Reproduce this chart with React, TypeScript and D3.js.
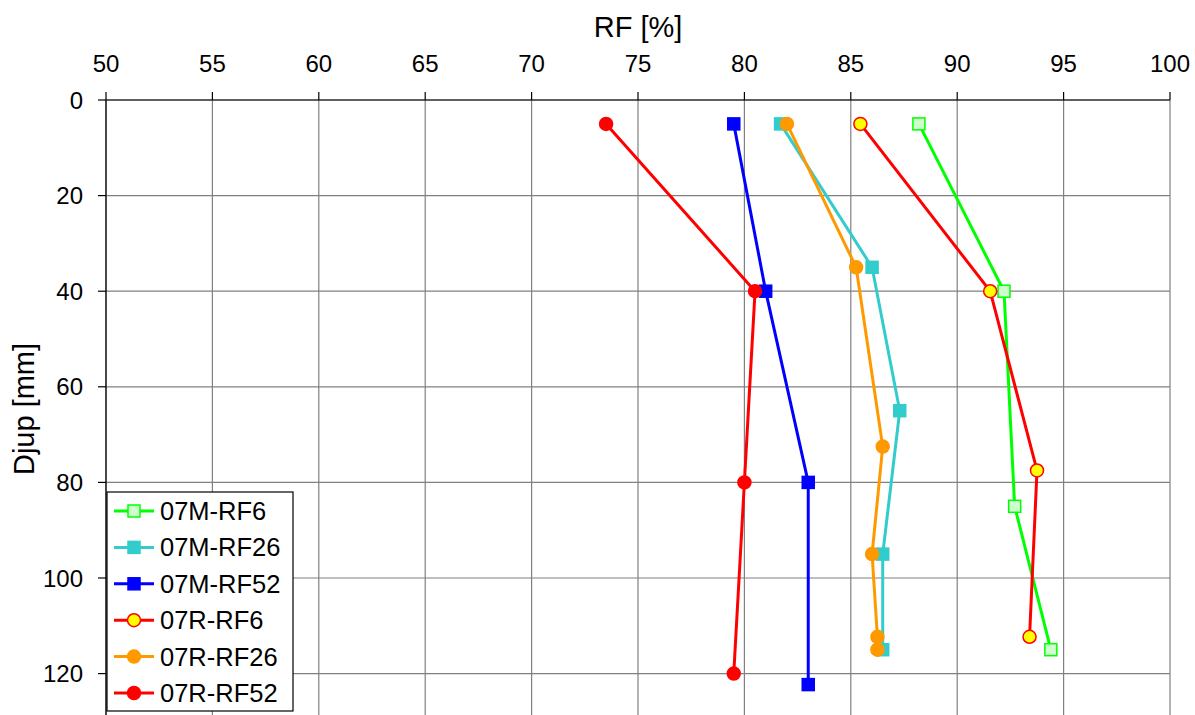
import React from "react";
import * as d3 from "d3";

const xTicks = [50, 55, 60, 65, 70, 75, 80, 85, 90, 95, 100];
const yTicks = [0, 20, 40, 60, 80, 100, 120];

const seriesNames = ["07M-RF6", "07M-RF26", "07M-RF52", "07R-RF6", "07R-RF26", "07R-RF52"];

const rf07M6 = [
  { rf: 88.2, d: 5 },
  { rf: 92.2, d: 40 },
  { rf: 92.7, d: 85 },
  { rf: 94.4, d: 115 },
];
const rf07M26 = [
  { rf: 81.7, d: 5 },
  { rf: 86.0, d: 35 },
  { rf: 87.3, d: 65 },
  { rf: 86.5, d: 95 },
  { rf: 86.5, d: 115 },
];
const rf07M52 = [
  { rf: 79.5, d: 5 },
  { rf: 81.0, d: 40 },
  { rf: 83.0, d: 80 },
  { rf: 83.0, d: 122.3 },
];
const rf07R6 = [
  { rf: 85.45, d: 5 },
  { rf: 91.55, d: 40 },
  { rf: 93.75, d: 77.5 },
  { rf: 93.4, d: 112.3 },
];
const rf07R26 = [
  { rf: 82.0, d: 5 },
  { rf: 85.25, d: 35 },
  { rf: 86.5, d: 72.5 },
  { rf: 86.0, d: 95 },
  { rf: 86.25, d: 112.3 },
  { rf: 86.25, d: 115 },
];
const rf07R52 = [
  { rf: 73.5, d: 5 },
  { rf: 80.5, d: 40 },
  { rf: 80.0, d: 80 },
  { rf: 79.5, d: 120 },
];

const seriesData = [rf07M6, rf07M26, rf07M52, rf07R6, rf07R26, rf07R52];

const styles = [
  { stroke: "#00FF00", fill: "#CCFFCC", mStroke: "#00FF00", shape: "square" },
  { stroke: "#33CCCC", fill: "#33CCCC", mStroke: "#33CCCC", shape: "square" },
  { stroke: "#0000FF", fill: "#0000FF", mStroke: "#0000FF", shape: "square" },
  { stroke: "#FF0000", fill: "#FFFF00", mStroke: "#FF0000", shape: "circle" },
  { stroke: "#FF9900", fill: "#FF9900", mStroke: "#FF9900", shape: "circle" },
  { stroke: "#FF0000", fill: "#FF0000", mStroke: "#FF0000", shape: "circle" },
];

const W = 1195;
const H = 715;
const left = 106;
const right = 1170;
const top = 100;
const bottom = 100 + 130 * 4.78;

const font = "'Liberation Sans', Arial, sans-serif";

function Marker({ cx, cy, s }: { cx: number; cy: number; s: any }) {
  if (s.shape === "square") {
    const hw = 6;
    return (
      <rect x={cx - hw} y={cy - hw} width={hw * 2} height={hw * 2} fill={s.fill} stroke={s.mStroke} strokeWidth={1.5} />
    );
  }
  return <circle cx={cx} cy={cy} r={6.5} fill={s.fill} stroke={s.mStroke} strokeWidth={1.5} />;
}

export default function App() {
  const x = d3.scaleLinear().domain([50, 100]).range([left, right]);
  const y = d3.scaleLinear().domain([0, 130]).range([top, bottom]);
  const line = d3
    .line<{ rf: number; d: number }>()
    .x((p) => x(p.rf))
    .y((p) => y(p.d));

  const legX = 107;
  const legY = 492;
  const legW = 186;
  const legH = 219;
  const legStep = 36.4;

  return (
    <svg
      width={W}
      height={H}
      style={{ position: "absolute", left: 0, top: 0, background: "#fff" }}
      fontFamily={font}
    >
      <rect x={0} y={0} width={W} height={H} fill="#fff" />
      {/* grid */}
      {xTicks.map((t) => (
        <line key={"gx" + t} x1={x(t)} x2={x(t)} y1={top} y2={bottom} stroke="#808080" strokeWidth={1.2} />
      ))}
      {yTicks.map((t) => (
        <line key={"gy" + t} x1={left} x2={right} y1={y(t)} y2={y(t)} stroke="#808080" strokeWidth={1.2} />
      ))}
      {/* axes */}
      <line x1={left} x2={right} y1={top} y2={top} stroke="#000" strokeWidth={1.2} />
      <line x1={left} x2={left} y1={top} y2={bottom} stroke="#000" strokeWidth={1.2} />
      {xTicks.map((t) => (
        <g key={"tx" + t}>
          <line x1={x(t)} x2={x(t)} y1={top - 8} y2={top} stroke="#000" strokeWidth={1.2} />
          <text x={x(t)} y={72} textAnchor="middle" fontSize={24} fill="#000">
            {t}
          </text>
        </g>
      ))}
      {yTicks.map((t) => (
        <g key={"ty" + t}>
          <line x1={left - 8} x2={left} y1={y(t)} y2={y(t)} stroke="#000" strokeWidth={1.2} />
          <text x={83} y={y(t) + 8.5} textAnchor="end" fontSize={24} fill="#000">
            {t}
          </text>
        </g>
      ))}
      <text x={638} y={37} textAnchor="middle" fontSize={29} fill="#000">
        RF [%]
      </text>
      <text
        transform={`translate(34, 409) rotate(-90)`}
        textAnchor="middle"
        fontSize={29}
        fill="#000"
      >
        Djup [mm]
      </text>
      {/* series */}
      {seriesData.map((data, i) => (
        <g key={"s" + i}>
          <path d={line(data) || ""} fill="none" stroke={styles[i].stroke} strokeWidth={3} />
          {data.map((p, j) => (
            <Marker key={j} cx={x(p.rf)} cy={y(p.d)} s={styles[i]} />
          ))}
        </g>
      ))}
      {/* legend */}
      <rect x={legX} y={legY} width={legW} height={legH} fill="#fff" stroke="#000" strokeWidth={1.2} />
      {seriesNames.map((n, i) => {
        const cy = legY + 19 + i * legStep;
        return (
          <g key={"l" + i}>
            <line x1={legX + 7} x2={legX + 47} y1={cy} y2={cy} stroke={styles[i].stroke} strokeWidth={3} />
            <Marker cx={legX + 27} cy={cy} s={styles[i]} />
            <text x={legX + 53} y={cy + 9} fontSize={25.5} fill="#000">
              {n}
            </text>
          </g>
        );
      })}
    </svg>
  );
}
